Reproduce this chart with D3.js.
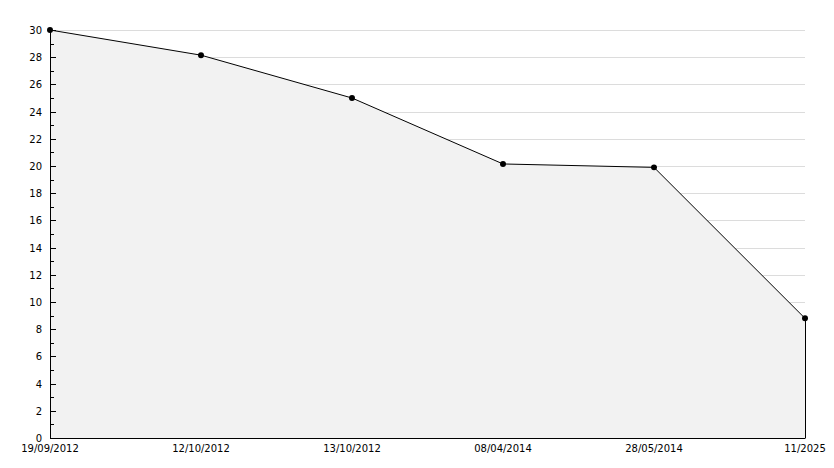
<!DOCTYPE html>
<html><head><meta charset="utf-8">
<script src="https://cdn.jsdelivr.net/npm/d3@7"></script>
<style>body{margin:0;background:#fff}svg{display:block}text{font-family:"DejaVu Sans",Verdana,sans-serif;font-size:10px;fill:#000}</style>
</head><body><svg id="c" width="834" height="468"></svg>
<script>
const categories = ["19/09/2012","12/10/2012","13/10/2012","08/04/2014","28/05/2014","11/2025"];
const values = [30, 28.15, 25, 20.15, 19.9, 8.8];
const yTicks = [0,2,4,6,8,10,12,14,16,18,20,22,24,26,28,30];

const svg = d3.select("#c");
const x = d3.scalePoint().domain(categories).range([50, 805]);
const y = d3.scaleLinear().domain([0, 30]).range([438, 30]);

// gridlines
svg.append("g").selectAll("line").data(yTicks.filter(d => d > 0)).join("line")
  .attr("x1", 50).attr("x2", 805)
  .attr("y1", d => Math.round(y(d)) + 0.5).attr("y2", d => Math.round(y(d)) + 0.5)
  .attr("stroke", "#dcdcdc").attr("stroke-width", 1);

// area
const area = d3.area().x((d,i) => x(categories[i])).y0(y(0)).y1(d => y(d));
svg.append("path").datum(values).attr("d", area).attr("fill", "#f2f2f2");

// line
const line = d3.line().x((d,i) => x(categories[i])).y(d => y(d));
svg.append("path").datum(values).attr("d", line).attr("fill", "none").attr("stroke", "#000").attr("stroke-width", 1);

// right vertical edge
svg.append("line").attr("x1", x(categories[5]) + 0.5).attr("x2", x(categories[5]) + 0.5)
  .attr("y1", y(values[5])).attr("y2", y(0)).attr("stroke", "#000");

// y axis line
svg.append("line").attr("x1", 50.5).attr("x2", 50.5).attr("y1", 30).attr("y2", 438.5).attr("stroke", "#000");
// x axis line
svg.append("line").attr("x1", 50).attr("x2", 805.5).attr("y1", 438.5).attr("y2", 438.5).attr("stroke", "#000");

// major ticks
svg.append("g").selectAll("line").data(yTicks).join("line")
  .attr("x1", 50).attr("x2", 56)
  .attr("y1", d => Math.round(y(d)) + 0.5).attr("y2", d => Math.round(y(d)) + 0.5)
  .attr("stroke", "#000");
// minor ticks
const minor = d3.range(1, 30, 2);
svg.append("g").selectAll("line").data(minor).join("line")
  .attr("x1", 50).attr("x2", 54)
  .attr("y1", d => Math.round(y(d)) + 0.5).attr("y2", d => Math.round(y(d)) + 0.5)
  .attr("stroke", "#000");

// y labels
svg.append("g").selectAll("text").data(yTicks).join("text")
  .attr("x", 42).attr("y", d => y(d) + 4).attr("text-anchor", "end").text(d => d);

// x labels
svg.append("g").selectAll("text").data(categories).join("text")
  .attr("x", d => x(d)).attr("y", 452).attr("text-anchor", "middle").text(d => d);

// markers
svg.append("g").selectAll("path").data(values).join("path")
  .attr("transform", (d,i) => `translate(${x(categories[i])},${y(d)})`)
  .attr("d", d3.symbol().type(d3.symbolCircle).size(28)).attr("fill", "#000");
</script></body></html>
